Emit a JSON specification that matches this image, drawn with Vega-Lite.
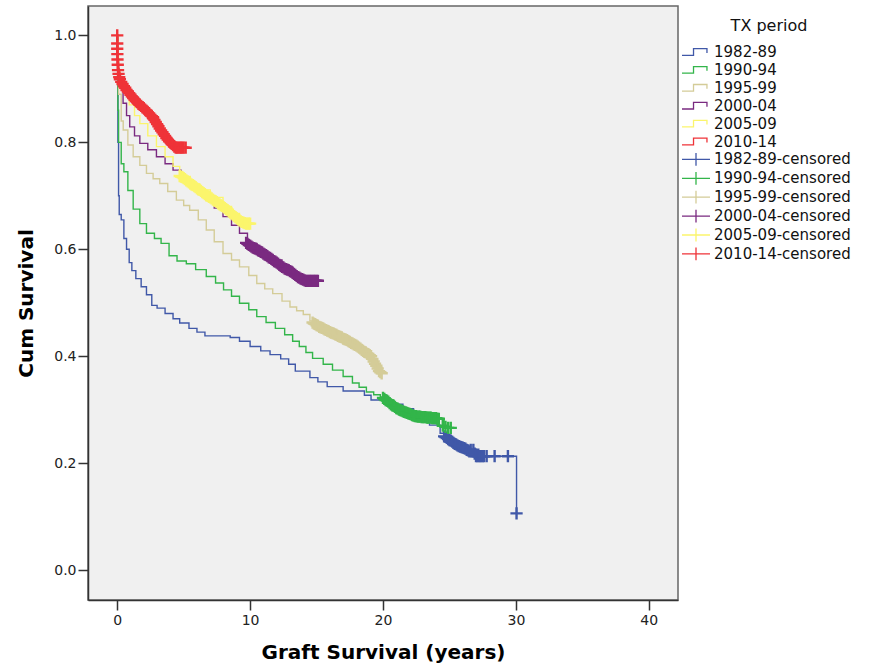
{
  "$schema": "https://vega.github.io/schema/vega-lite/v6.json",
  "width": 590,
  "height": 594,
  "autosize": "none",
  "padding": {"left": 88, "top": 6, "right": 194, "bottom": 64},
  "background": "white",
  "config": {
    "view": {"fill": "#f0f0f0", "stroke": "#666", "strokeWidth": 1.5}
  },
  "datasets": {
    "steps": [
      {"series": "1982-89", "t": 0, "s": 1.0},
      {"series": "1982-89", "t": 0.05, "s": 0.8},
      {"series": "1982-89", "t": 0.1, "s": 0.7},
      {"series": "1982-89", "t": 0.15, "s": 0.665},
      {"series": "1982-89", "t": 0.3, "s": 0.655},
      {"series": "1982-89", "t": 0.5, "s": 0.62},
      {"series": "1982-89", "t": 0.7, "s": 0.6},
      {"series": "1982-89", "t": 0.9, "s": 0.575},
      {"series": "1982-89", "t": 1.1, "s": 0.56},
      {"series": "1982-89", "t": 1.4, "s": 0.545},
      {"series": "1982-89", "t": 1.8, "s": 0.53},
      {"series": "1982-89", "t": 2.2, "s": 0.515},
      {"series": "1982-89", "t": 2.6, "s": 0.495},
      {"series": "1982-89", "t": 3.0, "s": 0.49},
      {"series": "1982-89", "t": 3.6, "s": 0.48},
      {"series": "1982-89", "t": 4.2, "s": 0.47},
      {"series": "1982-89", "t": 4.7, "s": 0.462},
      {"series": "1982-89", "t": 5.4, "s": 0.452},
      {"series": "1982-89", "t": 6.0, "s": 0.445},
      {"series": "1982-89", "t": 6.6, "s": 0.438},
      {"series": "1982-89", "t": 8.5, "s": 0.435},
      {"series": "1982-89", "t": 9.2, "s": 0.428},
      {"series": "1982-89", "t": 10.0, "s": 0.418},
      {"series": "1982-89", "t": 10.8, "s": 0.41},
      {"series": "1982-89", "t": 11.5, "s": 0.403},
      {"series": "1982-89", "t": 12.3, "s": 0.395},
      {"series": "1982-89", "t": 12.9, "s": 0.385},
      {"series": "1982-89", "t": 13.4, "s": 0.372},
      {"series": "1982-89", "t": 14.5, "s": 0.36},
      {"series": "1982-89", "t": 15.1, "s": 0.352},
      {"series": "1982-89", "t": 15.8, "s": 0.343},
      {"series": "1982-89", "t": 17.0, "s": 0.335},
      {"series": "1982-89", "t": 18.6, "s": 0.327},
      {"series": "1982-89", "t": 19.1, "s": 0.318},
      {"series": "1982-89", "t": 20.5, "s": 0.31},
      {"series": "1982-89", "t": 21.5, "s": 0.302},
      {"series": "1982-89", "t": 22.3, "s": 0.293},
      {"series": "1982-89", "t": 23.0, "s": 0.282},
      {"series": "1982-89", "t": 23.5, "s": 0.271},
      {"series": "1982-89", "t": 24.3, "s": 0.256},
      {"series": "1982-89", "t": 24.8, "s": 0.248},
      {"series": "1982-89", "t": 25.3, "s": 0.24},
      {"series": "1982-89", "t": 25.8, "s": 0.232},
      {"series": "1982-89", "t": 26.3, "s": 0.225},
      {"series": "1982-89", "t": 26.7, "s": 0.213},
      {"series": "1982-89", "t": 30.05, "s": 0.106},

      {"series": "1990-94", "t": 0, "s": 1.0},
      {"series": "1990-94", "t": 0.05, "s": 0.86},
      {"series": "1990-94", "t": 0.1, "s": 0.8},
      {"series": "1990-94", "t": 0.3, "s": 0.76},
      {"series": "1990-94", "t": 0.5, "s": 0.745},
      {"series": "1990-94", "t": 0.8, "s": 0.71},
      {"series": "1990-94", "t": 1.2, "s": 0.675},
      {"series": "1990-94", "t": 1.7, "s": 0.648},
      {"series": "1990-94", "t": 2.2, "s": 0.63},
      {"series": "1990-94", "t": 2.8, "s": 0.62},
      {"series": "1990-94", "t": 3.3, "s": 0.611},
      {"series": "1990-94", "t": 3.9, "s": 0.588},
      {"series": "1990-94", "t": 4.5, "s": 0.578},
      {"series": "1990-94", "t": 5.2, "s": 0.573},
      {"series": "1990-94", "t": 5.9, "s": 0.562},
      {"series": "1990-94", "t": 6.7, "s": 0.549},
      {"series": "1990-94", "t": 7.4, "s": 0.537},
      {"series": "1990-94", "t": 8.0, "s": 0.524},
      {"series": "1990-94", "t": 8.6, "s": 0.512},
      {"series": "1990-94", "t": 9.2, "s": 0.499},
      {"series": "1990-94", "t": 9.9, "s": 0.487},
      {"series": "1990-94", "t": 10.5, "s": 0.474},
      {"series": "1990-94", "t": 11.2, "s": 0.463},
      {"series": "1990-94", "t": 11.9, "s": 0.452},
      {"series": "1990-94", "t": 12.6, "s": 0.44},
      {"series": "1990-94", "t": 13.2, "s": 0.428},
      {"series": "1990-94", "t": 13.7, "s": 0.418},
      {"series": "1990-94", "t": 14.2, "s": 0.407},
      {"series": "1990-94", "t": 14.7, "s": 0.396},
      {"series": "1990-94", "t": 15.5, "s": 0.385},
      {"series": "1990-94", "t": 16.2, "s": 0.374},
      {"series": "1990-94", "t": 17.0, "s": 0.362},
      {"series": "1990-94", "t": 17.7, "s": 0.35},
      {"series": "1990-94", "t": 18.2, "s": 0.342},
      {"series": "1990-94", "t": 18.75, "s": 0.333},
      {"series": "1990-94", "t": 19.3, "s": 0.328},
      {"series": "1990-94", "t": 19.8, "s": 0.324},
      {"series": "1990-94", "t": 20.3, "s": 0.318},
      {"series": "1990-94", "t": 20.8, "s": 0.308},
      {"series": "1990-94", "t": 21.3, "s": 0.3},
      {"series": "1990-94", "t": 22.0, "s": 0.293},
      {"series": "1990-94", "t": 22.6, "s": 0.287},
      {"series": "1990-94", "t": 23.5, "s": 0.285},
      {"series": "1990-94", "t": 24.3, "s": 0.283},
      {"series": "1990-94", "t": 24.6, "s": 0.268},
      {"series": "1990-94", "t": 25.1, "s": 0.266},

      {"series": "1995-99", "t": 0, "s": 1.0},
      {"series": "1995-99", "t": 0.05, "s": 0.93},
      {"series": "1995-99", "t": 0.1, "s": 0.89},
      {"series": "1995-99", "t": 0.3, "s": 0.84},
      {"series": "1995-99", "t": 0.45, "s": 0.823},
      {"series": "1995-99", "t": 0.8, "s": 0.795},
      {"series": "1995-99", "t": 1.2, "s": 0.773},
      {"series": "1995-99", "t": 1.7, "s": 0.757},
      {"series": "1995-99", "t": 2.2, "s": 0.742},
      {"series": "1995-99", "t": 2.7, "s": 0.732},
      {"series": "1995-99", "t": 3.2, "s": 0.723},
      {"series": "1995-99", "t": 3.8, "s": 0.708},
      {"series": "1995-99", "t": 4.45, "s": 0.692},
      {"series": "1995-99", "t": 5.0, "s": 0.682},
      {"series": "1995-99", "t": 5.45, "s": 0.673},
      {"series": "1995-99", "t": 6.1, "s": 0.655},
      {"series": "1995-99", "t": 6.7, "s": 0.636},
      {"series": "1995-99", "t": 7.3, "s": 0.614},
      {"series": "1995-99", "t": 7.96, "s": 0.592},
      {"series": "1995-99", "t": 8.6, "s": 0.58},
      {"series": "1995-99", "t": 9.2, "s": 0.567},
      {"series": "1995-99", "t": 9.9, "s": 0.551},
      {"series": "1995-99", "t": 10.5, "s": 0.536},
      {"series": "1995-99", "t": 11.1, "s": 0.526},
      {"series": "1995-99", "t": 11.7, "s": 0.517},
      {"series": "1995-99", "t": 12.4, "s": 0.503},
      {"series": "1995-99", "t": 13.0, "s": 0.492},
      {"series": "1995-99", "t": 13.5, "s": 0.485},
      {"series": "1995-99", "t": 14.0, "s": 0.478},
      {"series": "1995-99", "t": 14.5, "s": 0.466},
      {"series": "1995-99", "t": 15.0, "s": 0.458},
      {"series": "1995-99", "t": 15.5, "s": 0.452},
      {"series": "1995-99", "t": 16.0, "s": 0.446},
      {"series": "1995-99", "t": 16.5, "s": 0.44},
      {"series": "1995-99", "t": 17.0, "s": 0.434},
      {"series": "1995-99", "t": 17.5, "s": 0.427},
      {"series": "1995-99", "t": 18.0, "s": 0.42},
      {"series": "1995-99", "t": 18.5, "s": 0.41},
      {"series": "1995-99", "t": 19.0, "s": 0.402},
      {"series": "1995-99", "t": 19.3, "s": 0.392},
      {"series": "1995-99", "t": 19.6, "s": 0.38},
      {"series": "1995-99", "t": 19.9, "s": 0.368},

      {"series": "2000-04", "t": 0, "s": 1.0},
      {"series": "2000-04", "t": 0.05, "s": 0.95},
      {"series": "2000-04", "t": 0.1, "s": 0.92},
      {"series": "2000-04", "t": 0.2, "s": 0.905},
      {"series": "2000-04", "t": 0.44, "s": 0.873},
      {"series": "2000-04", "t": 0.7, "s": 0.85},
      {"series": "2000-04", "t": 0.94, "s": 0.829},
      {"series": "2000-04", "t": 1.3, "s": 0.812},
      {"series": "2000-04", "t": 1.7, "s": 0.798},
      {"series": "2000-04", "t": 2.3, "s": 0.786},
      {"series": "2000-04", "t": 2.95, "s": 0.773},
      {"series": "2000-04", "t": 3.6, "s": 0.76},
      {"series": "2000-04", "t": 4.2, "s": 0.748},
      {"series": "2000-04", "t": 4.8, "s": 0.733},
      {"series": "2000-04", "t": 5.45, "s": 0.717},
      {"series": "2000-04", "t": 6.1, "s": 0.704},
      {"series": "2000-04", "t": 6.7, "s": 0.692},
      {"series": "2000-04", "t": 7.3, "s": 0.677},
      {"series": "2000-04", "t": 7.96, "s": 0.661},
      {"series": "2000-04", "t": 8.6, "s": 0.645},
      {"series": "2000-04", "t": 9.2, "s": 0.63},
      {"series": "2000-04", "t": 9.8, "s": 0.611},
      {"series": "2000-04", "t": 10.5, "s": 0.6},
      {"series": "2000-04", "t": 11.1, "s": 0.59},
      {"series": "2000-04", "t": 11.7, "s": 0.58},
      {"series": "2000-04", "t": 12.4, "s": 0.567},
      {"series": "2000-04", "t": 13.2, "s": 0.555},
      {"series": "2000-04", "t": 13.7, "s": 0.548},
      {"series": "2000-04", "t": 14.2, "s": 0.543},
      {"series": "2000-04", "t": 15.0, "s": 0.541},

      {"series": "2005-09", "t": 0, "s": 1.0},
      {"series": "2005-09", "t": 0.05, "s": 0.96},
      {"series": "2005-09", "t": 0.1, "s": 0.935},
      {"series": "2005-09", "t": 0.2, "s": 0.915},
      {"series": "2005-09", "t": 0.44, "s": 0.895},
      {"series": "2005-09", "t": 0.9, "s": 0.87},
      {"series": "2005-09", "t": 1.3, "s": 0.85},
      {"series": "2005-09", "t": 1.7, "s": 0.835},
      {"series": "2005-09", "t": 2.3, "s": 0.812},
      {"series": "2005-09", "t": 2.95, "s": 0.792},
      {"series": "2005-09", "t": 3.6, "s": 0.773},
      {"series": "2005-09", "t": 4.2, "s": 0.755},
      {"series": "2005-09", "t": 4.7, "s": 0.736},
      {"series": "2005-09", "t": 5.5, "s": 0.722},
      {"series": "2005-09", "t": 6.2, "s": 0.711},
      {"series": "2005-09", "t": 7.0, "s": 0.697},
      {"series": "2005-09", "t": 7.96, "s": 0.68},
      {"series": "2005-09", "t": 8.6, "s": 0.667},
      {"series": "2005-09", "t": 9.2, "s": 0.655},
      {"series": "2005-09", "t": 9.97, "s": 0.648},

      {"series": "2010-14", "t": 0, "s": 1.0},
      {"series": "2010-14", "t": 0.02, "s": 0.98},
      {"series": "2010-14", "t": 0.05, "s": 0.955},
      {"series": "2010-14", "t": 0.1, "s": 0.93},
      {"series": "2010-14", "t": 0.2, "s": 0.915},
      {"series": "2010-14", "t": 0.44, "s": 0.905},
      {"series": "2010-14", "t": 0.8, "s": 0.895},
      {"series": "2010-14", "t": 1.19, "s": 0.885},
      {"series": "2010-14", "t": 1.55, "s": 0.875},
      {"series": "2010-14", "t": 1.94, "s": 0.866},
      {"series": "2010-14", "t": 2.3, "s": 0.857},
      {"series": "2010-14", "t": 2.7, "s": 0.848},
      {"series": "2010-14", "t": 3.1, "s": 0.832},
      {"series": "2010-14", "t": 3.45, "s": 0.817},
      {"series": "2010-14", "t": 3.8, "s": 0.805},
      {"series": "2010-14", "t": 4.08, "s": 0.798},
      {"series": "2010-14", "t": 4.4, "s": 0.79},
      {"series": "2010-14", "t": 5.1, "s": 0.79}
    ],
    "censored": [
      {"series": "1982-89-censored", "t": 24.6, "s": 0.25},
      {"series": "1982-89-censored", "t": 24.7, "s": 0.249},
      {"series": "1982-89-censored", "t": 24.8, "s": 0.247},
      {"series": "1982-89-censored", "t": 24.9, "s": 0.245},
      {"series": "1982-89-censored", "t": 25.0, "s": 0.243},
      {"series": "1982-89-censored", "t": 25.1, "s": 0.242},
      {"series": "1982-89-censored", "t": 25.2, "s": 0.24},
      {"series": "1982-89-censored", "t": 25.3, "s": 0.238},
      {"series": "1982-89-censored", "t": 25.4, "s": 0.236},
      {"series": "1982-89-censored", "t": 25.5, "s": 0.235},
      {"series": "1982-89-censored", "t": 25.6, "s": 0.233},
      {"series": "1982-89-censored", "t": 25.7, "s": 0.232},
      {"series": "1982-89-censored", "t": 25.8, "s": 0.231},
      {"series": "1982-89-censored", "t": 25.9, "s": 0.23},
      {"series": "1982-89-censored", "t": 26.0, "s": 0.229},
      {"series": "1982-89-censored", "t": 26.1, "s": 0.228},
      {"series": "1982-89-censored", "t": 26.2, "s": 0.227},
      {"series": "1982-89-censored", "t": 26.3, "s": 0.225},
      {"series": "1982-89-censored", "t": 26.4, "s": 0.224},
      {"series": "1982-89-censored", "t": 26.5, "s": 0.222},
      {"series": "1982-89-censored", "t": 26.6, "s": 0.225},
      {"series": "1982-89-censored", "t": 26.8, "s": 0.225},
      {"series": "1982-89-censored", "t": 26.9, "s": 0.218},
      {"series": "1982-89-censored", "t": 27.0, "s": 0.213},
      {"series": "1982-89-censored", "t": 27.1, "s": 0.213},
      {"series": "1982-89-censored", "t": 27.2, "s": 0.213},
      {"series": "1982-89-censored", "t": 27.3, "s": 0.213},
      {"series": "1982-89-censored", "t": 27.4, "s": 0.213},
      {"series": "1982-89-censored", "t": 27.5, "s": 0.213},
      {"series": "1982-89-censored", "t": 27.6, "s": 0.213},
      {"series": "1982-89-censored", "t": 27.8, "s": 0.213},
      {"series": "1982-89-censored", "t": 28.4, "s": 0.213},
      {"series": "1982-89-censored", "t": 29.4, "s": 0.213},
      {"series": "1982-89-censored", "t": 30.05, "s": 0.106},

      {"series": "1990-94-censored", "t": 20.0, "s": 0.322},
      {"series": "1990-94-censored", "t": 20.1, "s": 0.32},
      {"series": "1990-94-censored", "t": 20.2, "s": 0.318},
      {"series": "1990-94-censored", "t": 20.3, "s": 0.317},
      {"series": "1990-94-censored", "t": 20.4, "s": 0.315},
      {"series": "1990-94-censored", "t": 20.5, "s": 0.312},
      {"series": "1990-94-censored", "t": 20.6, "s": 0.31},
      {"series": "1990-94-censored", "t": 20.7, "s": 0.308},
      {"series": "1990-94-censored", "t": 20.8, "s": 0.307},
      {"series": "1990-94-censored", "t": 20.9, "s": 0.305},
      {"series": "1990-94-censored", "t": 21.0, "s": 0.303},
      {"series": "1990-94-censored", "t": 21.1, "s": 0.302},
      {"series": "1990-94-censored", "t": 21.2, "s": 0.3},
      {"series": "1990-94-censored", "t": 21.3, "s": 0.299},
      {"series": "1990-94-censored", "t": 21.4, "s": 0.298},
      {"series": "1990-94-censored", "t": 21.5, "s": 0.297},
      {"series": "1990-94-censored", "t": 21.6, "s": 0.296},
      {"series": "1990-94-censored", "t": 21.7, "s": 0.295},
      {"series": "1990-94-censored", "t": 21.8, "s": 0.294},
      {"series": "1990-94-censored", "t": 21.9, "s": 0.293},
      {"series": "1990-94-censored", "t": 22.0, "s": 0.292},
      {"series": "1990-94-censored", "t": 22.1, "s": 0.291},
      {"series": "1990-94-censored", "t": 22.2, "s": 0.29},
      {"series": "1990-94-censored", "t": 22.3, "s": 0.289},
      {"series": "1990-94-censored", "t": 22.4, "s": 0.288},
      {"series": "1990-94-censored", "t": 22.5, "s": 0.288},
      {"series": "1990-94-censored", "t": 22.6, "s": 0.287},
      {"series": "1990-94-censored", "t": 22.7, "s": 0.287},
      {"series": "1990-94-censored", "t": 22.8, "s": 0.287},
      {"series": "1990-94-censored", "t": 22.9, "s": 0.286},
      {"series": "1990-94-censored", "t": 23.0, "s": 0.286},
      {"series": "1990-94-censored", "t": 23.1, "s": 0.286},
      {"series": "1990-94-censored", "t": 23.2, "s": 0.286},
      {"series": "1990-94-censored", "t": 23.3, "s": 0.285},
      {"series": "1990-94-censored", "t": 23.4, "s": 0.285},
      {"series": "1990-94-censored", "t": 23.5, "s": 0.285},
      {"series": "1990-94-censored", "t": 23.6, "s": 0.285},
      {"series": "1990-94-censored", "t": 23.7, "s": 0.284},
      {"series": "1990-94-censored", "t": 23.8, "s": 0.284},
      {"series": "1990-94-censored", "t": 23.9, "s": 0.284},
      {"series": "1990-94-censored", "t": 24.0, "s": 0.284},
      {"series": "1990-94-censored", "t": 24.1, "s": 0.283},
      {"series": "1990-94-censored", "t": 24.2, "s": 0.283},
      {"series": "1990-94-censored", "t": 24.5, "s": 0.27},
      {"series": "1990-94-censored", "t": 24.7, "s": 0.268},
      {"series": "1990-94-censored", "t": 24.9, "s": 0.266},
      {"series": "1990-94-censored", "t": 25.1, "s": 0.266},

      {"series": "1995-99-censored", "t": 14.7, "s": 0.463},
      {"series": "1995-99-censored", "t": 14.8, "s": 0.461},
      {"series": "1995-99-censored", "t": 14.9, "s": 0.46},
      {"series": "1995-99-censored", "t": 15.0, "s": 0.458},
      {"series": "1995-99-censored", "t": 15.1, "s": 0.457},
      {"series": "1995-99-censored", "t": 15.2, "s": 0.455},
      {"series": "1995-99-censored", "t": 15.3, "s": 0.454},
      {"series": "1995-99-censored", "t": 15.4, "s": 0.453},
      {"series": "1995-99-censored", "t": 15.5, "s": 0.452},
      {"series": "1995-99-censored", "t": 15.6, "s": 0.45},
      {"series": "1995-99-censored", "t": 15.7, "s": 0.449},
      {"series": "1995-99-censored", "t": 15.8, "s": 0.448},
      {"series": "1995-99-censored", "t": 15.9, "s": 0.447},
      {"series": "1995-99-censored", "t": 16.0, "s": 0.445},
      {"series": "1995-99-censored", "t": 16.1, "s": 0.444},
      {"series": "1995-99-censored", "t": 16.2, "s": 0.443},
      {"series": "1995-99-censored", "t": 16.3, "s": 0.442},
      {"series": "1995-99-censored", "t": 16.4, "s": 0.441},
      {"series": "1995-99-censored", "t": 16.5, "s": 0.44},
      {"series": "1995-99-censored", "t": 16.6, "s": 0.438},
      {"series": "1995-99-censored", "t": 16.7, "s": 0.437},
      {"series": "1995-99-censored", "t": 16.8, "s": 0.436},
      {"series": "1995-99-censored", "t": 16.9, "s": 0.435},
      {"series": "1995-99-censored", "t": 17.0, "s": 0.433},
      {"series": "1995-99-censored", "t": 17.1, "s": 0.432},
      {"series": "1995-99-censored", "t": 17.2, "s": 0.431},
      {"series": "1995-99-censored", "t": 17.3, "s": 0.43},
      {"series": "1995-99-censored", "t": 17.4, "s": 0.428},
      {"series": "1995-99-censored", "t": 17.5, "s": 0.427},
      {"series": "1995-99-censored", "t": 17.6, "s": 0.425},
      {"series": "1995-99-censored", "t": 17.7, "s": 0.424},
      {"series": "1995-99-censored", "t": 17.8, "s": 0.422},
      {"series": "1995-99-censored", "t": 17.9, "s": 0.421},
      {"series": "1995-99-censored", "t": 18.0, "s": 0.42},
      {"series": "1995-99-censored", "t": 18.1, "s": 0.418},
      {"series": "1995-99-censored", "t": 18.2, "s": 0.416},
      {"series": "1995-99-censored", "t": 18.3, "s": 0.414},
      {"series": "1995-99-censored", "t": 18.4, "s": 0.412},
      {"series": "1995-99-censored", "t": 18.5, "s": 0.41},
      {"series": "1995-99-censored", "t": 18.6, "s": 0.408},
      {"series": "1995-99-censored", "t": 18.7, "s": 0.407},
      {"series": "1995-99-censored", "t": 18.8, "s": 0.405},
      {"series": "1995-99-censored", "t": 18.9, "s": 0.404},
      {"series": "1995-99-censored", "t": 19.0, "s": 0.402},
      {"series": "1995-99-censored", "t": 19.1, "s": 0.4},
      {"series": "1995-99-censored", "t": 19.2, "s": 0.395},
      {"series": "1995-99-censored", "t": 19.3, "s": 0.39},
      {"series": "1995-99-censored", "t": 19.4, "s": 0.386},
      {"series": "1995-99-censored", "t": 19.5, "s": 0.382},
      {"series": "1995-99-censored", "t": 19.6, "s": 0.377},
      {"series": "1995-99-censored", "t": 19.7, "s": 0.372},
      {"series": "1995-99-censored", "t": 19.8, "s": 0.37},
      {"series": "1995-99-censored", "t": 19.9, "s": 0.368},

      {"series": "2000-04-censored", "t": 9.7, "s": 0.612},
      {"series": "2000-04-censored", "t": 9.8, "s": 0.61},
      {"series": "2000-04-censored", "t": 9.9, "s": 0.608},
      {"series": "2000-04-censored", "t": 10.0, "s": 0.607},
      {"series": "2000-04-censored", "t": 10.1, "s": 0.605},
      {"series": "2000-04-censored", "t": 10.2, "s": 0.603},
      {"series": "2000-04-censored", "t": 10.3, "s": 0.602},
      {"series": "2000-04-censored", "t": 10.4, "s": 0.601},
      {"series": "2000-04-censored", "t": 10.5, "s": 0.6},
      {"series": "2000-04-censored", "t": 10.6, "s": 0.598},
      {"series": "2000-04-censored", "t": 10.7, "s": 0.597},
      {"series": "2000-04-censored", "t": 10.8, "s": 0.595},
      {"series": "2000-04-censored", "t": 10.9, "s": 0.594},
      {"series": "2000-04-censored", "t": 11.0, "s": 0.592},
      {"series": "2000-04-censored", "t": 11.1, "s": 0.59},
      {"series": "2000-04-censored", "t": 11.2, "s": 0.589},
      {"series": "2000-04-censored", "t": 11.3, "s": 0.587},
      {"series": "2000-04-censored", "t": 11.4, "s": 0.585},
      {"series": "2000-04-censored", "t": 11.5, "s": 0.584},
      {"series": "2000-04-censored", "t": 11.6, "s": 0.582},
      {"series": "2000-04-censored", "t": 11.7, "s": 0.58},
      {"series": "2000-04-censored", "t": 11.8, "s": 0.578},
      {"series": "2000-04-censored", "t": 11.9, "s": 0.577},
      {"series": "2000-04-censored", "t": 12.0, "s": 0.575},
      {"series": "2000-04-censored", "t": 12.1, "s": 0.573},
      {"series": "2000-04-censored", "t": 12.2, "s": 0.571},
      {"series": "2000-04-censored", "t": 12.3, "s": 0.569},
      {"series": "2000-04-censored", "t": 12.4, "s": 0.567},
      {"series": "2000-04-censored", "t": 12.5, "s": 0.566},
      {"series": "2000-04-censored", "t": 12.6, "s": 0.564},
      {"series": "2000-04-censored", "t": 12.7, "s": 0.563},
      {"series": "2000-04-censored", "t": 12.8, "s": 0.562},
      {"series": "2000-04-censored", "t": 12.9, "s": 0.561},
      {"series": "2000-04-censored", "t": 13.0, "s": 0.559},
      {"series": "2000-04-censored", "t": 13.1, "s": 0.558},
      {"series": "2000-04-censored", "t": 13.2, "s": 0.556},
      {"series": "2000-04-censored", "t": 13.3, "s": 0.554},
      {"series": "2000-04-censored", "t": 13.4, "s": 0.552},
      {"series": "2000-04-censored", "t": 13.5, "s": 0.55},
      {"series": "2000-04-censored", "t": 13.6, "s": 0.548},
      {"series": "2000-04-censored", "t": 13.7, "s": 0.547},
      {"series": "2000-04-censored", "t": 13.8, "s": 0.545},
      {"series": "2000-04-censored", "t": 13.9, "s": 0.544},
      {"series": "2000-04-censored", "t": 14.0, "s": 0.543},
      {"series": "2000-04-censored", "t": 14.1, "s": 0.542},
      {"series": "2000-04-censored", "t": 14.2, "s": 0.541},
      {"series": "2000-04-censored", "t": 14.3, "s": 0.541},
      {"series": "2000-04-censored", "t": 14.4, "s": 0.541},
      {"series": "2000-04-censored", "t": 14.5, "s": 0.541},
      {"series": "2000-04-censored", "t": 14.6, "s": 0.541},
      {"series": "2000-04-censored", "t": 14.7, "s": 0.541},
      {"series": "2000-04-censored", "t": 14.8, "s": 0.541},
      {"series": "2000-04-censored", "t": 14.9, "s": 0.541},
      {"series": "2000-04-censored", "t": 15.0, "s": 0.541},
      {"series": "2000-04-censored", "t": 15.1, "s": 0.541},

      {"series": "2005-09-censored", "t": 4.7, "s": 0.737},
      {"series": "2005-09-censored", "t": 4.8, "s": 0.736},
      {"series": "2005-09-censored", "t": 4.9, "s": 0.735},
      {"series": "2005-09-censored", "t": 5.0, "s": 0.733},
      {"series": "2005-09-censored", "t": 5.1, "s": 0.731},
      {"series": "2005-09-censored", "t": 5.2, "s": 0.729},
      {"series": "2005-09-censored", "t": 5.3, "s": 0.727},
      {"series": "2005-09-censored", "t": 5.4, "s": 0.725},
      {"series": "2005-09-censored", "t": 5.5, "s": 0.723},
      {"series": "2005-09-censored", "t": 5.6, "s": 0.721},
      {"series": "2005-09-censored", "t": 5.7, "s": 0.72},
      {"series": "2005-09-censored", "t": 5.8, "s": 0.718},
      {"series": "2005-09-censored", "t": 5.9, "s": 0.716},
      {"series": "2005-09-censored", "t": 6.0, "s": 0.714},
      {"series": "2005-09-censored", "t": 6.1, "s": 0.712},
      {"series": "2005-09-censored", "t": 6.2, "s": 0.711},
      {"series": "2005-09-censored", "t": 6.3, "s": 0.709},
      {"series": "2005-09-censored", "t": 6.4, "s": 0.707},
      {"series": "2005-09-censored", "t": 6.5, "s": 0.705},
      {"series": "2005-09-censored", "t": 6.6, "s": 0.703},
      {"series": "2005-09-censored", "t": 6.7, "s": 0.701},
      {"series": "2005-09-censored", "t": 6.8, "s": 0.7},
      {"series": "2005-09-censored", "t": 6.9, "s": 0.698},
      {"series": "2005-09-censored", "t": 7.0, "s": 0.697},
      {"series": "2005-09-censored", "t": 7.1, "s": 0.695},
      {"series": "2005-09-censored", "t": 7.2, "s": 0.693},
      {"series": "2005-09-censored", "t": 7.3, "s": 0.691},
      {"series": "2005-09-censored", "t": 7.4, "s": 0.69},
      {"series": "2005-09-censored", "t": 7.5, "s": 0.688},
      {"series": "2005-09-censored", "t": 7.6, "s": 0.686},
      {"series": "2005-09-censored", "t": 7.7, "s": 0.684},
      {"series": "2005-09-censored", "t": 7.8, "s": 0.682},
      {"series": "2005-09-censored", "t": 7.9, "s": 0.681},
      {"series": "2005-09-censored", "t": 8.0, "s": 0.679},
      {"series": "2005-09-censored", "t": 8.1, "s": 0.677},
      {"series": "2005-09-censored", "t": 8.2, "s": 0.675},
      {"series": "2005-09-censored", "t": 8.3, "s": 0.673},
      {"series": "2005-09-censored", "t": 8.4, "s": 0.671},
      {"series": "2005-09-censored", "t": 8.5, "s": 0.669},
      {"series": "2005-09-censored", "t": 8.6, "s": 0.667},
      {"series": "2005-09-censored", "t": 8.7, "s": 0.665},
      {"series": "2005-09-censored", "t": 8.8, "s": 0.662},
      {"series": "2005-09-censored", "t": 8.9, "s": 0.66},
      {"series": "2005-09-censored", "t": 9.0, "s": 0.658},
      {"series": "2005-09-censored", "t": 9.1, "s": 0.656},
      {"series": "2005-09-censored", "t": 9.2, "s": 0.654},
      {"series": "2005-09-censored", "t": 9.3, "s": 0.652},
      {"series": "2005-09-censored", "t": 9.4, "s": 0.651},
      {"series": "2005-09-censored", "t": 9.5, "s": 0.65},
      {"series": "2005-09-censored", "t": 9.6, "s": 0.649},
      {"series": "2005-09-censored", "t": 9.7, "s": 0.648},
      {"series": "2005-09-censored", "t": 9.8, "s": 0.648},
      {"series": "2005-09-censored", "t": 9.9, "s": 0.648},
      {"series": "2005-09-censored", "t": 10.0, "s": 0.648},

      {"series": "2010-14-censored", "t": 0.0, "s": 1.0},
      {"series": "2010-14-censored", "t": 0.0, "s": 0.985},
      {"series": "2010-14-censored", "t": 0.0, "s": 0.975},
      {"series": "2010-14-censored", "t": 0.01, "s": 0.965},
      {"series": "2010-14-censored", "t": 0.02, "s": 0.955},
      {"series": "2010-14-censored", "t": 0.04, "s": 0.945},
      {"series": "2010-14-censored", "t": 0.06, "s": 0.935},
      {"series": "2010-14-censored", "t": 0.1, "s": 0.928},
      {"series": "2010-14-censored", "t": 0.15, "s": 0.922},
      {"series": "2010-14-censored", "t": 0.2, "s": 0.918},
      {"series": "2010-14-censored", "t": 0.3, "s": 0.913},
      {"series": "2010-14-censored", "t": 0.4, "s": 0.909},
      {"series": "2010-14-censored", "t": 0.5, "s": 0.905},
      {"series": "2010-14-censored", "t": 0.6, "s": 0.902},
      {"series": "2010-14-censored", "t": 0.7, "s": 0.898},
      {"series": "2010-14-censored", "t": 0.8, "s": 0.895},
      {"series": "2010-14-censored", "t": 0.9, "s": 0.892},
      {"series": "2010-14-censored", "t": 1.0, "s": 0.889},
      {"series": "2010-14-censored", "t": 1.1, "s": 0.886},
      {"series": "2010-14-censored", "t": 1.2, "s": 0.883},
      {"series": "2010-14-censored", "t": 1.3, "s": 0.88},
      {"series": "2010-14-censored", "t": 1.4, "s": 0.877},
      {"series": "2010-14-censored", "t": 1.5, "s": 0.875},
      {"series": "2010-14-censored", "t": 1.6, "s": 0.872},
      {"series": "2010-14-censored", "t": 1.7, "s": 0.87},
      {"series": "2010-14-censored", "t": 1.8, "s": 0.868},
      {"series": "2010-14-censored", "t": 1.9, "s": 0.866},
      {"series": "2010-14-censored", "t": 2.0, "s": 0.864},
      {"series": "2010-14-censored", "t": 2.1, "s": 0.861},
      {"series": "2010-14-censored", "t": 2.2, "s": 0.859},
      {"series": "2010-14-censored", "t": 2.3, "s": 0.856},
      {"series": "2010-14-censored", "t": 2.4, "s": 0.854},
      {"series": "2010-14-censored", "t": 2.5, "s": 0.851},
      {"series": "2010-14-censored", "t": 2.6, "s": 0.849},
      {"series": "2010-14-censored", "t": 2.7, "s": 0.845},
      {"series": "2010-14-censored", "t": 2.8, "s": 0.842},
      {"series": "2010-14-censored", "t": 2.9, "s": 0.838},
      {"series": "2010-14-censored", "t": 3.0, "s": 0.834},
      {"series": "2010-14-censored", "t": 3.1, "s": 0.83},
      {"series": "2010-14-censored", "t": 3.2, "s": 0.826},
      {"series": "2010-14-censored", "t": 3.3, "s": 0.822},
      {"series": "2010-14-censored", "t": 3.4, "s": 0.819},
      {"series": "2010-14-censored", "t": 3.5, "s": 0.815},
      {"series": "2010-14-censored", "t": 3.6, "s": 0.812},
      {"series": "2010-14-censored", "t": 3.7, "s": 0.808},
      {"series": "2010-14-censored", "t": 3.8, "s": 0.805},
      {"series": "2010-14-censored", "t": 3.9, "s": 0.802},
      {"series": "2010-14-censored", "t": 4.0, "s": 0.8},
      {"series": "2010-14-censored", "t": 4.1, "s": 0.797},
      {"series": "2010-14-censored", "t": 4.2, "s": 0.795},
      {"series": "2010-14-censored", "t": 4.3, "s": 0.792},
      {"series": "2010-14-censored", "t": 4.4, "s": 0.79},
      {"series": "2010-14-censored", "t": 4.5, "s": 0.79},
      {"series": "2010-14-censored", "t": 4.6, "s": 0.79},
      {"series": "2010-14-censored", "t": 4.7, "s": 0.79},
      {"series": "2010-14-censored", "t": 4.8, "s": 0.79},
      {"series": "2010-14-censored", "t": 4.9, "s": 0.79},
      {"series": "2010-14-censored", "t": 5.0, "s": 0.79},
      {"series": "2010-14-censored", "t": 5.15, "s": 0.79}
    ]
  },
  "encoding": {
    "x": {
      "field": "t",
      "type": "quantitative",
      "scale": {"domain": [-2.2, 42.2], "nice": false, "zero": false},
      "axis": {
        "title": "Graft Survival (years)",
        "values": [0, 10, 20, 30, 40],
        "grid": false,
        "tickSize": 10,
        "tickWidth": 1.5,
        "tickColor": "#333",
        "domainColor": "#333",
        "domainWidth": 1.5,
        "labelPadding": 3,
        "labelFont": "DejaVu Sans",
        "labelFontSize": 14,
        "labelColor": "#222",
        "titleFont": "DejaVu Sans",
        "titleFontSize": 20,
        "titleFontWeight": "bold",
        "titleColor": "#000",
        "titlePadding": 15
      }
    },
    "y": {
      "field": "s",
      "type": "quantitative",
      "scale": {"domain": [-0.056, 1.055], "nice": false, "zero": false},
      "axis": {
        "title": "Cum Survival",
        "values": [0, 0.2, 0.4, 0.6, 0.8, 1],
        "format": ".1f",
        "grid": false,
        "tickSize": 10,
        "tickWidth": 1.5,
        "tickColor": "#333",
        "domainColor": "#333",
        "domainWidth": 1.5,
        "labelPadding": 2,
        "labelFont": "DejaVu Sans",
        "labelFontSize": 14,
        "labelColor": "#222",
        "titleFont": "DejaVu Sans",
        "titleFontSize": 20,
        "titleFontWeight": "bold",
        "titleColor": "#000",
        "titlePadding": 17
      }
    },
    "color": {
      "field": "series",
      "type": "nominal",
      "scale": {
        "domain": ["1982-89", "1990-94", "1995-99", "2000-04", "2005-09", "2010-14",
                   "1982-89-censored", "1990-94-censored", "1995-99-censored", "2000-04-censored", "2005-09-censored", "2010-14-censored"],
        "range": ["#4058a8", "#33b54a", "#d4cc98", "#7a2a80", "#fbf56c", "#ef3338",
                  "#4058a8", "#33b54a", "#d4cc98", "#7a2a80", "#fbf56c", "#ef3338"]
      },
      "legend": {
        "title": "TX period",
        "orient": "none",
        "legendX": 599,
        "legendY": 12,
        "padding": 0,
        "titleAnchor": "middle",
        "titleAlign": "center",
        "titleFont": "DejaVu Sans",
        "titleFontSize": 16,
        "titleFontWeight": "normal",
        "titleColor": "#111",
        "titlePadding": 9,
        "labelFont": "DejaVu Sans",
        "labelFontSize": 15,
        "labelColor": "#111",
        "labelOffset": 9,
        "labelLimit": 300,
        "symbolSize": 256,
        "rowPadding": 0.9,
        "encode": {
          "symbols": {
            "update": {
              "shape": {"signal": "indexof(datum.value, 'censored') > 0 ? 'M-1.75,0L1.75,0M0,-0.8L0,0.8' : 'M-1.75,0.41L-0.31,0.41L-0.31,-0.41L1.37,-0.41L1.37,0.12'"},
              "fill": {"value": "transparent"},
              "stroke": {"signal": "scale('color', datum.value)"},
              "strokeWidth": {"value": 1.3},
              "opacity": {"value": 1}
            }
          }
        }
      }
    }
  },
  "layer": [
    {
      "data": {"name": "steps"},
      "mark": {"type": "line", "interpolate": "step-after", "strokeWidth": 1.4}
    },
    {
      "data": {"name": "censored"},
      "mark": {
        "type": "point",
        "shape": "M-1,0L1,0M0,-1L0,1",
        "filled": false,
        "size": 150,
        "strokeWidth": 2.4,
        "opacity": 1
      }
    }
  ]
}
